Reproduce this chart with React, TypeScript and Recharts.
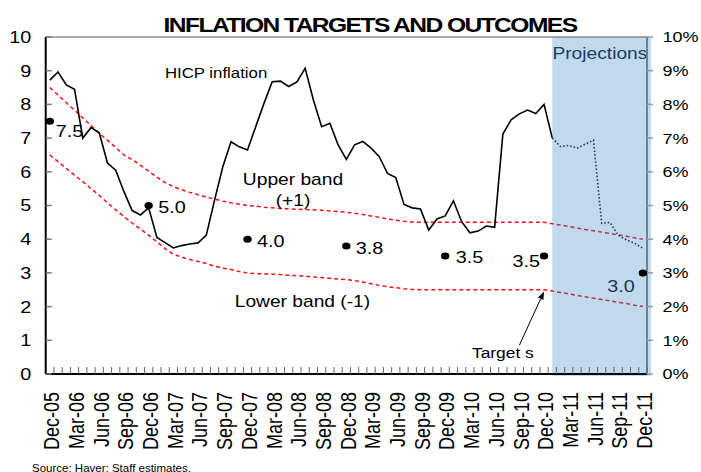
import React from 'react';
import {
  LineChart,
  Line,
  XAxis,
  YAxis,
  ReferenceArea,
  ReferenceDot,
  ReferenceLine,
} from 'recharts';

// monthly categories, Dec-05 .. Dec-11
const months = [
  'Dec-05',
  'Jan-06', 'Feb-06', 'Mar-06', 'Apr-06', 'May-06', 'Jun-06', 'Jul-06', 'Aug-06', 'Sep-06', 'Oct-06', 'Nov-06', 'Dec-06',
  'Jan-07', 'Feb-07', 'Mar-07', 'Apr-07', 'May-07', 'Jun-07', 'Jul-07', 'Aug-07', 'Sep-07', 'Oct-07', 'Nov-07', 'Dec-07',
  'Jan-08', 'Feb-08', 'Mar-08', 'Apr-08', 'May-08', 'Jun-08', 'Jul-08', 'Aug-08', 'Sep-08', 'Oct-08', 'Nov-08', 'Dec-08',
  'Jan-09', 'Feb-09', 'Mar-09', 'Apr-09', 'May-09', 'Jun-09', 'Jul-09', 'Aug-09', 'Sep-09', 'Oct-09', 'Nov-09', 'Dec-09',
  'Jan-10', 'Feb-10', 'Mar-10', 'Apr-10', 'May-10', 'Jun-10', 'Jul-10', 'Aug-10', 'Sep-10', 'Oct-10', 'Nov-10', 'Dec-10',
  'Jan-11', 'Feb-11', 'Mar-11', 'Apr-11', 'May-11', 'Jun-11', 'Jul-11', 'Aug-11', 'Sep-11', 'Oct-11', 'Nov-11', 'Dec-11',
];

// HICP inflation, actual (Dec-05 .. Jan-11)
const hicpActual = [
  8.72,
  8.96, 8.58, 8.45, 7.0, 7.31, 7.16, 6.26, 6.05, 5.41, 4.85, 4.72, 4.93,
  4.05, 3.9, 3.74, 3.81, 3.86, 3.89, 4.12, 5.16, 6.15, 6.89, 6.74, 6.65,
  7.34, 8.03, 8.67, 8.69, 8.53, 8.67, 9.07, 8.13, 7.34, 7.44, 6.8, 6.37,
  6.8, 6.9, 6.7, 6.45, 5.95, 5.83, 5.03, 4.93, 4.9, 4.27, 4.6, 4.69,
  5.14, 4.52, 4.19, 4.24, 4.39, 4.35, 7.12, 7.54, 7.72, 7.83, 7.73, 8.0,
  7.0,
];

// HICP inflation, projection (Jan-11 .. Dec-11)
const projStart = 'Jan-11';
const hicpProjection = [7.0, 6.75, 6.78, 6.7, 6.82, 6.94, 4.47, 4.5, 4.12, 3.98, 3.88, 3.73];

const upperBand = [
  8.5,
  8.28, 8.05, 7.83, 7.6, 7.37, 7.14, 6.94, 6.72, 6.5, 6.36, 6.2, 6.02,
  5.84, 5.68, 5.56, 5.47, 5.39, 5.32, 5.25, 5.19, 5.13, 5.08, 5.04, 5.0,
  4.98, 4.95, 4.93, 4.91, 4.9, 4.89, 4.88, 4.87, 4.86, 4.84, 4.82, 4.8,
  4.77, 4.73, 4.69, 4.65, 4.6, 4.56, 4.53, 4.51, 4.5, 4.5, 4.5, 4.5,
  4.5, 4.5, 4.5, 4.5, 4.5, 4.5, 4.5, 4.5, 4.5, 4.5, 4.5, 4.5,
  4.46, 4.42, 4.38, 4.33, 4.29, 4.25, 4.21, 4.17, 4.13, 4.09, 4.04, 4.0,
];

const lowerBand = [
  6.5,
  6.3, 6.1, 5.9, 5.71, 5.5, 5.3, 5.08, 4.87, 4.67, 4.48, 4.3, 4.12,
  3.92, 3.72, 3.55, 3.47, 3.4, 3.34, 3.28, 3.2, 3.14, 3.1, 3.04, 3.0,
  2.98, 2.97, 2.96, 2.95, 2.93, 2.92, 2.9, 2.88, 2.86, 2.84, 2.82, 2.8,
  2.77, 2.73, 2.68, 2.63, 2.59, 2.56, 2.53, 2.51, 2.5, 2.5, 2.5, 2.5,
  2.5, 2.5, 2.5, 2.5, 2.5, 2.5, 2.5, 2.5, 2.5, 2.5, 2.5, 2.5,
  2.46, 2.42, 2.38, 2.33, 2.29, 2.25, 2.21, 2.17, 2.13, 2.09, 2.04, 2.0,
];

const targetMonths = ['Dec-05', 'Dec-06', 'Dec-07', 'Dec-08', 'Dec-09', 'Dec-10', 'Dec-11'];
const targetValues = [7.5, 5.0, 4.0, 3.8, 3.5, 3.5, 3.0];

const yTicks = [0, 1, 2, 3, 4, 5, 6, 7, 8, 9, 10];

const projOffset = months.indexOf(projStart);
const data = months.map((month, i) => {
  const t = targetMonths.indexOf(month);
  return {
    month,
    hicp: i < hicpActual.length ? hicpActual[i] : null,
    proj: i >= projOffset ? hicpProjection[i - projOffset] : null,
    upper: upperBand[i],
    lower: lowerBand[i],
    target: t >= 0 ? targetValues[t] : null,
  };
});

// layout
const W = 701;
const H = 472;
const PLOT_LEFT = 45.7;
const PLOT_RIGHT = 647;
const STEP = (PLOT_RIGHT - PLOT_LEFT) / months.length;
const FONT = '"Liberation Sans", Arial, sans-serif';
const SX = 1.2; // the original is drawn a little wide

const WideText = ({ x, y, size, anchor = 'start', fill = '#000', weight = 'normal', spacing = 0, children }: any) => (
  <text
    transform={`translate(${x} ${y}) scale(${SX} 1)`}
    textAnchor={anchor}
    fontSize={size}
    fontFamily={FONT}
    fontWeight={weight}
    letterSpacing={spacing}
    fill={fill}
  >
    {children}
  </text>
);

const MonthTick = ({ x, y, payload, index }: any) => (
  <g>
    <line x1={x + STEP / 2} x2={x + STEP / 2} y1={y - 7} y2={y} stroke="#666" strokeWidth={1} />
    {index % 3 === 0 && (
      <text
        transform={`translate(${x + 1.5} ${y + 18}) scale(${SX} 1) rotate(-90)`}
        textAnchor="end"
        dy="0.36em"
        fontSize={18}
        fontFamily={FONT}
        fill="#000"
      >
        {payload.value}
      </text>
    )}
  </g>
);

const LeftTick = ({ x, y, payload }: any) => (
  <g>
    <line x1={x} x2={x + 6} y1={y} y2={y} stroke="#777" strokeWidth={1.5} />
    <text
      transform={`translate(${x - 14.5} ${y}) scale(${SX} 1)`}
      textAnchor="end"
      dy="0.36em"
      fontSize={16.5}
      fontFamily={FONT}
      fill="#000"
    >
      {payload.value}
    </text>
  </g>
);

const RightTick = ({ x, y, payload }: any) => (
  <g>
    <line x1={x} x2={x + 6} y1={y} y2={y} stroke="#8a9aa8" strokeWidth={1.5} />
    <text
      transform={`translate(${x + 15.5} ${y}) scale(${SX} 1)`}
      textAnchor="start"
      dy="0.36em"
      fontSize={15}
      fontFamily={FONT}
      fill="#000"
    >
      {`${payload.value}%`}
    </text>
  </g>
);

const TargetDot = (p: any) => {
  if (p.cy == null || p.value == null) return <g key={p.index} />;
  return <ellipse key={p.index} cx={p.cx} cy={p.cy} rx={4.2} ry={3.5} fill="#000" />;
};

// label placement for each target dot: [dx, dy, anchor, colour]
const targetLabelPos: Record<string, [number, number, string, string]> = {
  'Dec-05': [6, 16, 'start', '#000'],
  'Dec-06': [9.5, 7.5, 'start', '#000'],
  'Dec-07': [9.5, 7.5, 'start', '#000'],
  'Dec-08': [9.5, 8, 'start', '#000'],
  'Dec-09': [10.5, 7, 'start', '#000'],
  'Dec-10': [-4, 10.7, 'end', '#000'],
  'Dec-11': [-8, 19, 'end', '#1d3550'],
};

const TargetLabel = (p: any) => {
  if (p.value == null || p.y == null) return null;
  const month = data[p.index]?.month;
  const pos = targetLabelPos[month];
  if (!pos) return null;
  const [dx, dy, anchor, fill] = pos;
  return (
    <WideText x={p.x + dx} y={p.y + dy} size={16.5} anchor={anchor} fill={fill}>
      {Number(p.value).toFixed(1)}
    </WideText>
  );
};

const note = (text: string, size: number, dx = 0, fill = '#000') => (p: any) => {
  const vb = p.viewBox || {};
  return (
    <WideText x={(vb.x ?? 0) + (vb.width ?? 0) / 2 + dx} y={vb.y ?? 0} size={size} anchor="middle" fill={fill}>
      {text}
    </WideText>
  );
};

const Arrow = (p: any) => {
  const { x1, y1, x2, y2 } = p;
  const a = Math.atan2(y2 - y1, x2 - x1);
  const len = 8;
  const w = 3;
  const bx = x2 - len * Math.cos(a);
  const by = y2 - len * Math.sin(a);
  const pts = `${x2},${y2} ${bx + w * Math.sin(a)},${by - w * Math.cos(a)} ${bx - w * Math.sin(a)},${by + w * Math.cos(a)}`;
  return (
    <g>
      <line x1={x1} y1={y1} x2={bx} y2={by} stroke="#000" strokeWidth={1} />
      <polygon points={pts} fill="#000" />
    </g>
  );
};

const ProjectionShade = (p: any) => (
  <rect x={p.x} y={p.y} width={p.width + 8} height={p.height + 2} fill="#2d80c3" fillOpacity={0.3} />
);

const App = () => (
  <div style={{ position: 'absolute', left: 0, top: 0, width: W, height: H, background: '#fff', overflow: 'hidden' }}>
    <LineChart
      width={W}
      height={H}
      data={data}
      margin={{ top: 37, right: 4, bottom: 0, left: 5.7 }}
    >
      <XAxis
        dataKey="month"
        interval={0}
        height={98}
        padding={{ left: STEP / 2, right: STEP / 2 }}
        tickSize={0}
        tickMargin={0}
        tickLine={false}
        axisLine={{ stroke: '#000', strokeWidth: 2 }}
        tick={<MonthTick />}
      />
      <YAxis
        width={40}
        domain={[0, 10]}
        ticks={yTicks}
        tickSize={0}
        tickMargin={0}
        tickLine={false}
        axisLine={{ stroke: '#000', strokeWidth: 2 }}
        tick={<LeftTick />}
      />
      <YAxis
        yAxisId="right"
        orientation="right"
        width={50}
        domain={[0, 10]}
        ticks={yTicks}
        tickSize={0}
        tickMargin={0}
        tickLine={false}
        axisLine={{ stroke: '#6d8296', strokeWidth: 2 }}
        tick={<RightTick />}
      />
      <ReferenceLine y={10} stroke="#8c8c8c" strokeWidth={1.5} />

      {/* invisible copy so the right-hand % axis gets a domain */}
      <Line yAxisId="right" dataKey="upper" stroke="none" dot={false} activeDot={false} isAnimationActive={false} />

      <Line dataKey="upper" stroke="#f01418" strokeWidth={1.5} strokeDasharray="4 3" dot={false} isAnimationActive={false} />
      <Line dataKey="lower" stroke="#f01418" strokeWidth={1.5} strokeDasharray="4 3" dot={false} isAnimationActive={false} />
      <Line dataKey="hicp" stroke="#000" strokeWidth={1.6} dot={false} isAnimationActive={false} />
      <Line dataKey="proj" stroke="#1a2633" strokeWidth={1.6} strokeDasharray="1.6 2" dot={false} isAnimationActive={false} />
      <Line
        dataKey="target"
        stroke="none"
        dot={TargetDot}
        activeDot={false}
        label={TargetLabel}
        isAnimationActive={false}
      />

      <ReferenceLine
        segment={[{ x: 'Sep-10', y: 0.85 }, { x: 'Dec-10', y: 2.45 }]}
        shape={Arrow}
      />

      <ReferenceDot x="Aug-07" y={8.78} r={0} fill="none" stroke="none" label={{ content: note('HICP inflation', 14, 1.5) }} />
      <ReferenceDot x="May-08" y={5.61} r={0} fill="none" stroke="none" label={{ content: note('Upper band', 16, 4.3) }} />
      <ReferenceDot x="May-08" y={5.0} r={0} fill="none" stroke="none" label={{ content: note('(+1)', 16, 4.3) }} />
      <ReferenceDot x="Jul-08" y={2.0} r={0} fill="none" stroke="none" label={{ content: note('Lower band (-1)', 16, -2.7) }} />
      <ReferenceDot x="Jul-10" y={0.48} r={0} fill="none" stroke="none" label={{ content: note('Target s', 14.5, 0) }} />

      <ReferenceArea
        x1={projStart}
        x2="Dec-11"
        shape={ProjectionShade}
        zIndex={450}
        label={{ content: (p: any) => {
          const vb = p.viewBox || {};
          return (
            <WideText x={vb.x + vb.width / 2 + 2.3} y={vb.y + 21.5} size={16} anchor="middle" fill="#1f3b57">
              Projections
            </WideText>
          );
        } }}
      />
    </LineChart>

    <svg width={W} height={H} style={{ position: 'absolute', left: 0, top: 0, pointerEvents: 'none' }}>
      <WideText x={370} y={32} size={20.5} anchor="middle" weight="bold" spacing={-1.3}>
        INFLATION TARGETS AND OUTCOMES
      </WideText>
      <text x={32} y={471.5} fontSize={11.5} fontFamily={FONT} fill="#000">
        Source: Haver;  Staff estimates.
      </text>
    </svg>
  </div>
);

export default App;
